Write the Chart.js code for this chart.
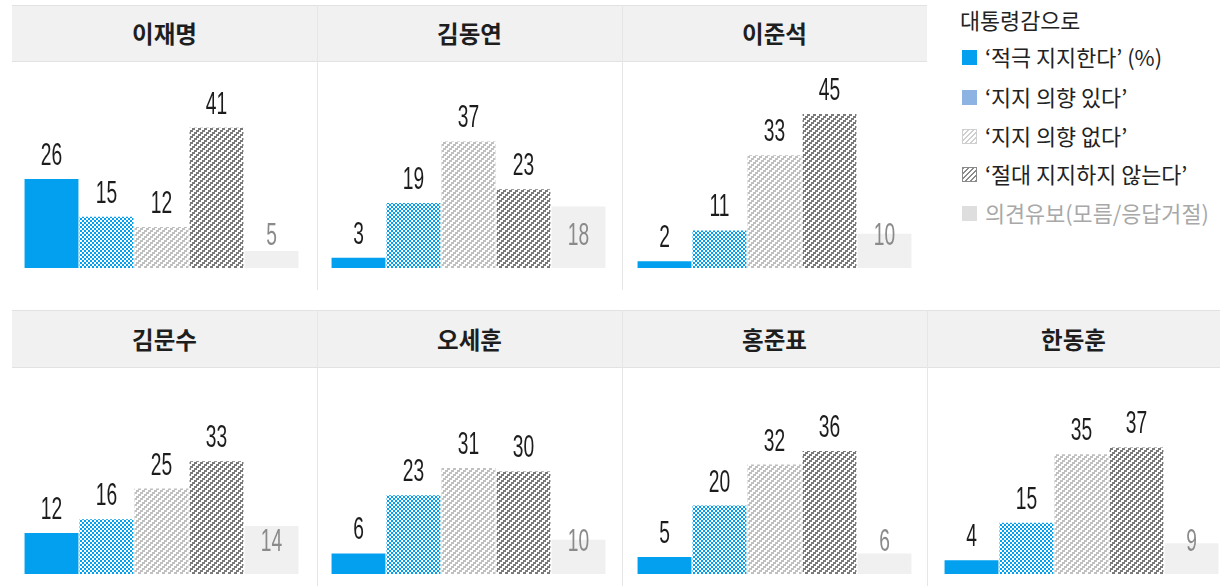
<!DOCTYPE html>
<html><head><meta charset="utf-8">
<script src="https://cdn.jsdelivr.net/npm/chart.js@4/dist/chart.umd.min.js"></script>
<style>
body{margin:0;background:#fff;}
#root{position:relative;width:1220px;height:586px;overflow:hidden;background:#fff;font-family:"Noto Sans CJK KR","Noto Sans",sans-serif;}
.band{position:absolute;background:#f1f1f1;border-top:1px solid #e2e2e2;border-bottom:1px solid #e2e2e2;box-sizing:border-box;}
.vsep{position:absolute;width:1px;background:#e6e6e6;}
.htitle{position:absolute;text-align:center;font-weight:700;font-size:23.5px;color:#1e1e1e;line-height:30px;}
.leg{position:absolute;left:962px;font-size:21.8px;line-height:26px;color:#222;white-space:nowrap;}
.mk{position:absolute;width:15px;height:15px;box-sizing:border-box;}
canvas{position:absolute;}
</style></head>
<body><div id="root"></div>
<script>
// ---- data ----
const candidates = ['이재명','김동연','이준석','김문수','오세훈','홍준표','한동훈'];
const categories = ['‘적극 지지한다’ (%)','‘지지 의향 있다’','‘지지 의향 없다’','‘절대 지지하지 않는다’','의견유보(모름/응답거절)'];
const strongSupport = [26, 3, 2, 12, 6, 5, 4];
const maySupport    = [15, 19, 11, 16, 23, 20, 15];
const mayNotSupport = [12, 37, 33, 25, 31, 32, 35];
const neverSupport  = [41, 23, 45, 33, 30, 36, 37];
const undecided     = [5, 18, 10, 14, 10, 6, 9];
const legendTitle = '대통령감으로';

// ---- patterns ----
function makeTile(w,h,fn){const c=document.createElement('canvas');c.width=w;c.height=h;const x=c.getContext('2d');
  x.fillStyle='#fff';x.fillRect(0,0,w,h);for(let yy=0;yy<h;yy++)for(let xx=0;xx<w;xx++){const col=fn(xx,yy);if(col){x.fillStyle=col;x.fillRect(xx,yy,1,1);}}return c;}
const pctx=document.createElement('canvas').getContext('2d');
const BLUE='#03a0ef';
const checker=pctx.createPattern(makeTile(4,4,(x,y)=>((Math.floor(x/2)+Math.floor(y/2))%2===0)?BLUE:null),'repeat');
function stripe(col){return pctx.createPattern(makeTile(6,6,(x,y)=>{const s=((-2*Math.floor(y/2))%6+6)%6;return (((x-s)%6+6)%6)<3?col:null;}),'repeat');}
const lightStripe=stripe('#c0c0c0');
const darkStripe=stripe('#7a7a7a');
const fills=[BLUE,checker,lightStripe,darkStripe,'#f0f0f0'];

// ---- layout ----
const root=document.getElementById('root');
function el(cls,css,txt){const d=document.createElement('div');d.className=cls;Object.assign(d.style,css);if(txt!=null)d.textContent=txt;root.appendChild(d);return d;}
const rows=[
  {idx:[0,1,2],top:5,hb:61,bottom:290,base:268,bandRight:927,px:[12,317,622,927],barLeft:[24,331,637]},
  {idx:[3,4,5,6],top:310,hb:367,bottom:586,base:574,bandRight:1220,px:[12,317,622,927,1220],barLeft:[24,331,637,944]}
];
const PXU=3.42, YMAX=60;

const labelPlugin={id:'vals',afterDatasetsDraw(chart){
  const ctx=chart.ctx,meta=chart.getDatasetMeta(0),ds=chart.data.datasets[0];
  const y0=chart.scales.y.getPixelForValue(0);
  meta.data.forEach((bar,i)=>{
    const v=ds.data[i];let yb,col;
    if(i===4){yb=y0-23;col='#8a8a8a';}else{yb=bar.y-14;col='#1c1c1c';}
    ctx.save();ctx.translate(bar.x,yb);ctx.scale(0.62,1);
    ctx.font='31px "Liberation Sans"';ctx.textAlign='center';ctx.textBaseline='alphabetic';
    ctx.fillStyle=col;ctx.fillText(String(v),0,0);ctx.restore();
  });
}};

rows.forEach(r=>{
  el('band',{left:'12px',top:r.top+'px',width:(r.bandRight-12)+'px',height:(r.hb-r.top+1)+'px'});
  r.idx.forEach((ci,k)=>{
    const pl=r.px[k],pr=r.px[k+1];
    if(k>0) el('vsep',{left:pl+'px',top:r.top+'px',height:(r.bottom-r.top)+'px'});
    el('htitle',{left:pl+'px',width:(pr-pl)+'px',top:(r.top+(r.hb-r.top)/2-15)+'px'},candidates[ci]);
    const cv=document.createElement('canvas');
    const bl=r.barLeft[k];
    const W=275+24, H=r.bottom-(r.hb+1);
    cv.width=W;cv.height=H;cv.style.left=(bl-12)+'px';cv.style.top=(r.hb+1)+'px';
    cv.style.width=W+'px';cv.style.height=H+'px';
    root.appendChild(cv);
    const padB=r.bottom-r.base, areaH=YMAX*PXU;
    new Chart(cv,{type:'bar',
      data:{labels:categories,datasets:[{data:[strongSupport[ci],maySupport[ci],mayNotSupport[ci],neverSupport[ci],undecided[ci]],
        backgroundColor:fills,borderWidth:0,categoryPercentage:1,barPercentage:0.98}]},
      options:{responsive:false,animation:false,devicePixelRatio:1,
        layout:{padding:{left:12,right:12,bottom:padB,top:H-padB-areaH}},
        plugins:{legend:{display:false},tooltip:{enabled:false}},
        scales:{x:{display:false,offset:true,grid:{display:false}},y:{display:false,min:0,max:YMAX,grid:{display:false}}}},
      plugins:[labelPlugin]});
  });
});

// ---- legend ----
el('leg',{top:'7px',left:'960px'},legendTitle);
const legY=[57,97,136,174,213];
const mkStyle=[
  {background:BLUE},
  {background:'#8db3e2'},
  {background:'repeating-linear-gradient(135deg,#cfcfcf 0 1px,#fff 1px 3.5px)',border:'1px solid #cfcfcf'},
  {background:'repeating-linear-gradient(135deg,#8a8a8a 0 1px,#fff 1px 3.5px)',border:'1px solid #8a8a8a'},
  {background:'#dedede'}
];
categories.forEach((c,i)=>{
  const m=document.createElement('div');m.className='mk';Object.assign(m.style,mkStyle[i],{left:'962px',top:(legY[i]-7.5)+'px'});root.appendChild(m);
  el('leg',{left:'985px',top:(legY[i]-13)+'px',color:i===4?'#a8a8a8':'#222'},c);
});
</script></body></html>
